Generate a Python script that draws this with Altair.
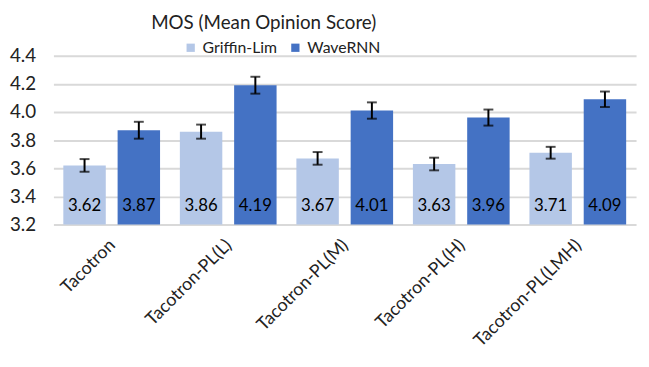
import altair as alt
import pandas as pd

models = ["Tacotron", "Tacotron-PL(L)", "Tacotron-PL(M)", "Tacotron-PL(H)", "Tacotron-PL(LMH)"]
vocoders = ["Griffin-Lim", "WaveRNN"]
griffin = [3.62, 3.86, 3.67, 3.63, 3.71]
wavernn = [3.87, 4.19, 4.01, 3.96, 4.09]
griffin_err = [0.045, 0.05, 0.045, 0.045, 0.042]
wavernn_err = [0.06, 0.06, 0.058, 0.057, 0.055]
y_ticks = [3.2, 3.4, 3.6, 3.8, 4.0, 4.2, 4.4]

rows = []
for i, m in enumerate(models):
    rows.append({"model": m, "vocoder": vocoders[0], "mos": griffin[i], "err": griffin_err[i]})
    rows.append({"model": m, "vocoder": vocoders[1], "mos": wavernn[i], "err": wavernn_err[i]})
df = pd.DataFrame(rows)
df["lo"] = df["mos"] - df["err"]
df["hi"] = df["mos"] + df["err"]
df["label"] = df["mos"].map(lambda v: f"{v:.2f}")

FONT = "Lato"

x = alt.X("model:N", sort=models, title=None,
          scale=alt.Scale(paddingInner=0.17, paddingOuter=0.085),
          axis=alt.Axis(labelAngle=-45, labelAlign="right", labelBaseline="middle",
                        labelFontSize=18, labelColor="#222", labelFont=FONT,
                        labelPadding=18, labelOffset=1, ticks=False, domain=False))
xo = alt.XOffset("vocoder:N", sort=vocoders,
                 scale=alt.Scale(paddingInner=0.218, paddingOuter=0))
yscale = alt.Scale(domain=[3.2, 4.4], nice=False, zero=False)
yaxis = alt.Axis(values=y_ticks, tickCount=len(y_ticks), format=".1f", labelFontSize=19,
                 labelFont=FONT, labelColor="#222", labelPadding=18, ticks=False,
                 domain=False, grid=True, gridColor="#D9D9D9", gridWidth=2,
                 labelOverlap=False)

base = alt.Chart(df)

bars = base.mark_bar().encode(
    x=x, xOffset=xo,
    y=alt.Y("mos:Q", scale=yscale, title=None, axis=yaxis),
    y2=alt.datum(3.2),
    color=alt.Color("vocoder:N", sort=vocoders,
                    scale=alt.Scale(domain=vocoders, range=["#B4C7E7", "#4472C4"]),
                    legend=alt.Legend(title=None, orient="none", direction="horizontal",
                                      legendX=131, legendY=-16, symbolType="square",
                                      symbolSize=70, labelFontSize=16, labelFont=FONT,
                                      labelColor="#222", columnPadding=10, labelOffset=4,
                                      symbolStrokeWidth=0)),
)

rules = base.mark_rule(color="black", strokeWidth=2).encode(
    x=x, xOffset=xo, y=alt.Y("lo:Q", scale=yscale, title=None, axis=yaxis), y2="hi:Q")
caps_hi = base.mark_tick(color="black", thickness=2, size=10).encode(
    x=x, xOffset=xo, y=alt.Y("hi:Q", scale=yscale, title=None, axis=yaxis))
caps_lo = base.mark_tick(color="black", thickness=2, size=10).encode(
    x=x, xOffset=xo, y=alt.Y("lo:Q", scale=yscale, title=None, axis=yaxis))

labels = base.mark_text(font=FONT, fontSize=17, color="black", baseline="bottom", dy=-10).encode(
    x=x, xOffset=xo, y=alt.datum(3.2), text="label:N")

chart = alt.layer(bars, rules, caps_hi, caps_lo, labels).properties(
    width=590, height=171,
    title=alt.TitleParams("MOS (Mean Opinion Score)", anchor="start", frame="group", dx=99,
                          fontSize=19, font=FONT, fontWeight="normal", color="#222", offset=7),
    autosize=alt.AutoSizeParams(type="none"),
    padding={"left": 46, "top": 46, "right": 5, "bottom": 140},
).configure_view(stroke=None).configure_axisX(grid=False)

chart.save("out.html", embed_options={"renderer": "svg", "actions": False})
